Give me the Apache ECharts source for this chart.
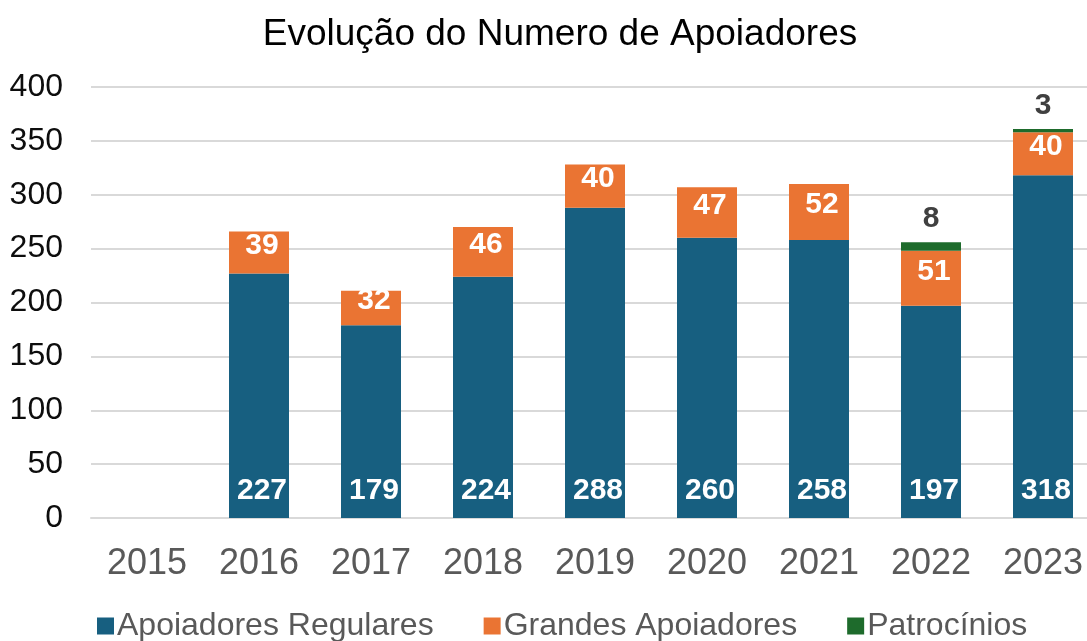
<!DOCTYPE html>
<html>
<head>
<meta charset="utf-8">
<title>Evolução do Numero de Apoiadores</title>
<script src="https://cdn.jsdelivr.net/npm/echarts@6/dist/echarts.min.js"></script>
<style>
  html, body { margin: 0; padding: 0; background: #fff; }
  #chart { width: 1087px; height: 641px; }
</style>
</head>
<body>
<div id="chart"></div>
<script>
// dados
const anos = ['2015', '2016', '2017', '2018', '2019', '2020', '2021', '2022', '2023'];
const regulares = ['-', 227, 179, 224, 288, 260, 258, 197, 318];
const grandes = ['-', 39, 32, 46, 40, 47, 52, 51, 40];
const patrocinios = ['-', '-', '-', '-', '-', '-', '-', 8, 3];
const ticksY = [0, 50, 100, 150, 200, 250, 300, 350, 400];

const fonte = '"Liberation Sans", Arial, sans-serif';

let myChart = echarts.init(document.getElementById('chart'));
myChart.setOption({
  animation: false,
  textStyle: { fontFamily: fonte },
  title: {
    text: 'Evolução do Numero de Apoiadores',
    left: 560,
    top: 16,
    padding: 0,
    textAlign: 'center',
    textStyle: { fontFamily: fonte, fontSize: 37, fontWeight: 'normal', color: '#000' }
  },
  // cores das séries
  color: ['#175f80', '#ea7433', '#1e6b2c'],
  legend: {
    data: ['Apoiadores Regulares', 'Grandes Apoiadores', 'Patrocínios'],
    left: 97,
    top: 610,
    padding: 0,
    itemWidth: 17,
    itemHeight: 17,
    itemGap: 50,
    icon: 'rect',
    textStyle: { fontFamily: fonte, fontSize: 32, color: '#595959', padding: [0, 0, 0, -2] }
  },
  // a área do gráfico passa um pouco da borda direita (como no original)
  grid: { left: 91, top: 87, width: 1008, height: 431, outerBoundsMode: 'none' },
  xAxis: {
    type: 'category',
    data: anos,
    axisTick: { show: false },
    axisLine: { lineStyle: { color: '#d9d9d9', width: 2 } },
    axisLabel: { fontFamily: fonte, fontSize: 36, color: '#595959', margin: 28 }
  },
  yAxis: {
    type: 'value',
    min: ticksY[0],
    max: ticksY[ticksY.length - 1],
    interval: ticksY[1] - ticksY[0],
    axisLine: { show: false },
    axisTick: { show: false },
    axisLabel: { fontFamily: fonte, fontSize: 32, color: '#0d0d0d', margin: 28 },
    splitLine: { lineStyle: { color: '#d9d9d9', width: 2 } }
  },
  series: [
    {
      name: 'Apoiadores Regulares',
      type: 'bar',
      stack: 'total',
      barWidth: 60,
      data: regulares,
      label: {
        show: true,
        position: 'insideBottom',
        distance: 12,
        offset: [3, 0],
        color: '#fff',
        fontWeight: 'bold',
        fontSize: 30,
        fontFamily: fonte
      }
    },
    {
      name: 'Grandes Apoiadores',
      type: 'bar',
      stack: 'total',
      barWidth: 60,
      data: grandes,
      label: {
        show: true,
        position: 'inside',
        offset: [3, -7],
        color: '#fff',
        fontWeight: 'bold',
        fontSize: 30,
        fontFamily: fonte
      }
    },
    {
      name: 'Patrocínios',
      type: 'bar',
      stack: 'total',
      barWidth: 60,
      data: patrocinios,
      label: {
        show: true,
        position: 'top',
        distance: 8,
        color: '#404040',
        fontWeight: 'bold',
        fontSize: 30,
        fontFamily: fonte
      }
    }
  ]
});
</script>
</body>
</html>
